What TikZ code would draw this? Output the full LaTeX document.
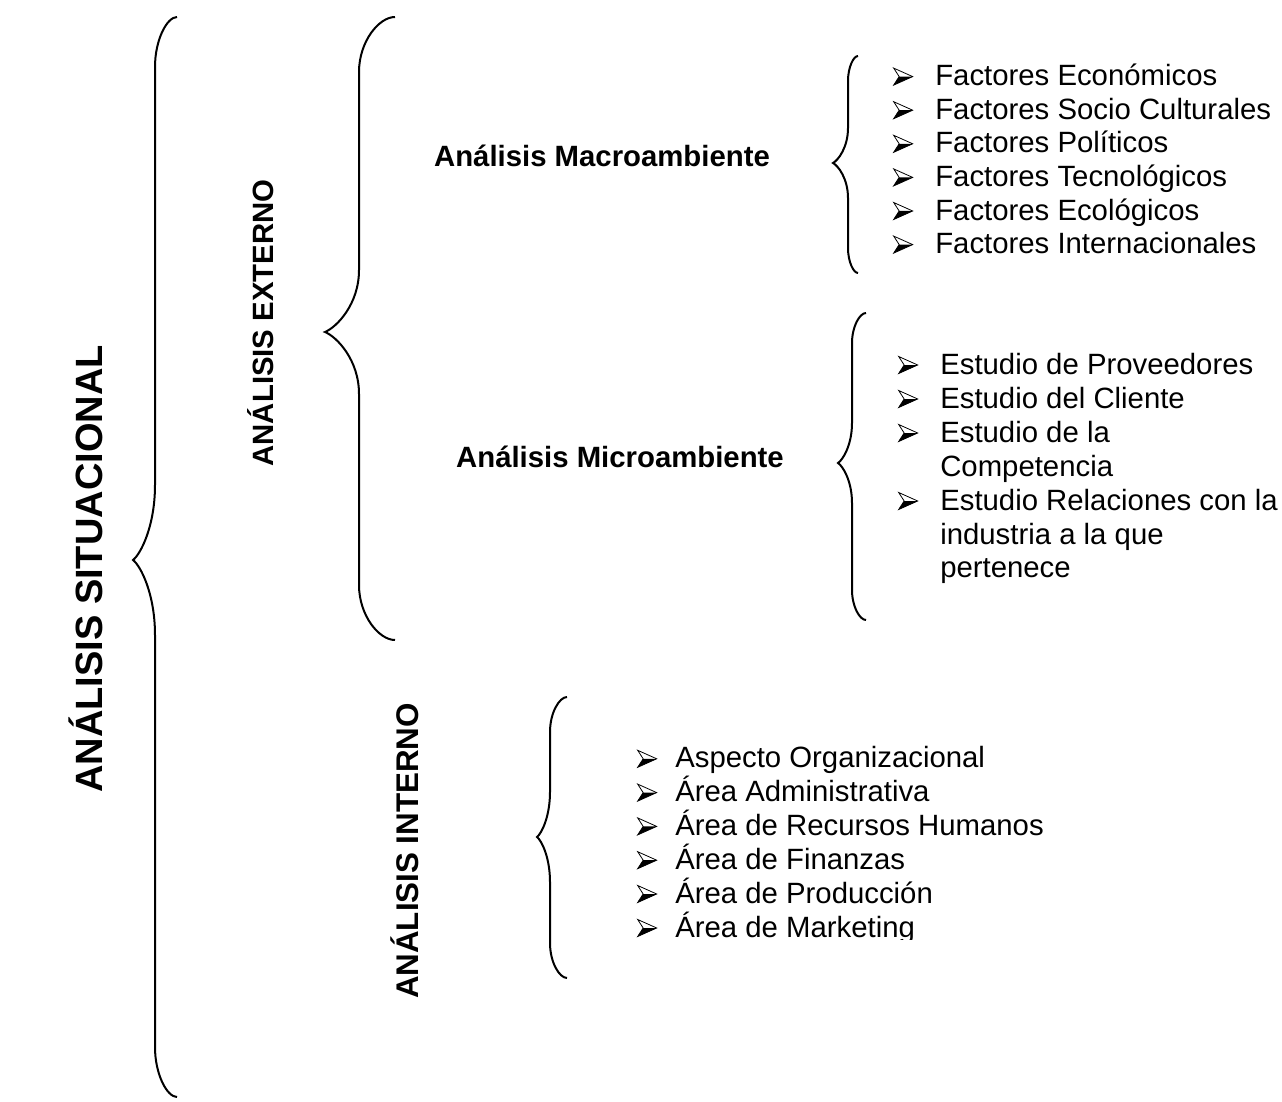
\documentclass[tikz,border=0pt]{standalone}
\usepackage{fontspec}
\setmainfont{Liberation Sans}
\newcommand{\arrowbul}{\tikz[x=0.75pt,y=0.75pt,baseline=-3.5pt,line width=0.6pt,line join=miter]{%
  \fill[black] (0,-8.5) -- (19,0) -- (5.5,0) -- cycle;
  \draw[black] (5.5,0) -- (0,8.5) -- (19,0) -- (0,-8.5) -- cycle;}}
\tikzset{
  bracestyle/.style={line width=1.5pt, black},
  item/.style={anchor=base west, inner sep=0pt, font=\fontsize{22}{26}\selectfont},
  bul/.style={anchor=west, inner sep=0pt},
  head/.style={inner sep=0pt, font=\bfseries\fontsize{22}{26}\selectfont},
  vhead/.style={inner sep=0pt, rotate=90, font=\bfseries\fontsize{22}{26}\selectfont},
}
% #1 xt, #2 yt, #3 xv, #4 xp, #5 ym, #6 yb, #7 r1, #8 r2
\newcommand{\curlybrace}[8]{%
  \draw[bracestyle] (#1,#2)
    .. controls ({#3+0.55*(#1-#3)},#2) and (#3,{#2+0.45*#7}) .. (#3,{#2+#7})
    -- (#3,{#5-#8})
    .. controls (#3,{#5-0.45*#8}) and ({#4+0.35*(#3-#4)},{#5-0.08*#8}) .. (#4,#5)
    .. controls ({#4+0.35*(#3-#4)},{#5+0.08*#8}) and (#3,{#5+0.45*#8}) .. (#3,{#5+#8})
    -- (#3,{#6-#7})
    .. controls (#3,{#6-0.45*#7}) and ({#3+0.55*(#1-#3)},#6) .. (#1,#6);}
\begin{document}
\begin{tikzpicture}[x=0.75pt,y=-0.75pt]
\useasboundingbox (0,0) rectangle (1282,1102);

% braces
\curlybrace{177}{17}{155}{133}{560}{1097}{50}{75}
\curlybrace{395}{17}{359}{325}{332}{640}{55}{62}
\curlybrace{858}{56}{848}{833}{163}{273}{25}{35}
\curlybrace{866}{313}{852}{838}{463}{620}{30}{40}
\curlybrace{567}{697}{550}{537}{837}{978}{35}{45}

% vertical headings
\node[vhead, font=\bfseries\fontsize{28.5}{32}\selectfont] (sit) at (86,569) {ANÁLISIS SITUACIONAL};
\node[vhead] (ext) at (261,323) {ANÁLISIS EXTERNO};
\node[vhead, font=\bfseries\fontsize{23.5}{28}\selectfont] (int) at (405,851) {ANÁLISIS INTERNO};

% horizontal headings
\node[head] (macro) at (602,156) {Análisis Macroambiente};
\node[head] (micro) at (620,457) {Análisis Microambiente};

% macro list
\foreach \t [count=\i] in {Factores Económicos, Factores Socio Culturales, Factores Políticos, Factores Tecnológicos, Factores Ecológicos, Factores Internacionales}{
  \node[bul] (mb\i) at (893,{43+33.6*\i}) {\arrowbul};
  \node[item] (m\i) at (935,{52+33.6*\i}) {\t};
}

% micro list
\node[bul] (ub1) at (898,365) {\arrowbul};
\node[item] (u1) at (940,374) {Estudio de Proveedores};
\node[bul] (ub2) at (898,399) {\arrowbul};
\node[item] (u2) at (940,408) {Estudio del Cliente};
\node[bul] (ub3) at (898,433) {\arrowbul};
\node[item] (u3) at (940,442) {Estudio de la};
\node[item] (u3b) at (940,476) {Competencia};
\node[bul] (ub4) at (898,501) {\arrowbul};
\node[item] (u4) at (940,510) {Estudio Relaciones con la};
\node[item] (u4b) at (940,544) {industria a la que};
\node[item] (u4c) at (940,577) {pertenece};

% interno list
\foreach \t [count=\i] in {Aspecto Organizacional, Área Administrativa, Área de Recursos Humanos, Área de Finanzas, Área de Producción}{
  \node[bul] (ib\i) at (637,{725+33.8*\i}) {\arrowbul};
  \node[item] (i\i) at (675,{734+33.8*\i}) {\t};
}
\node[bul] (ib6) at (637,928) {\arrowbul};
\begin{scope}
  \clip (600,900) rectangle (1100,939);
  \node[item] (i6) at (675,937) {Área de Marketing};
\end{scope}
\end{tikzpicture}
\end{document}
